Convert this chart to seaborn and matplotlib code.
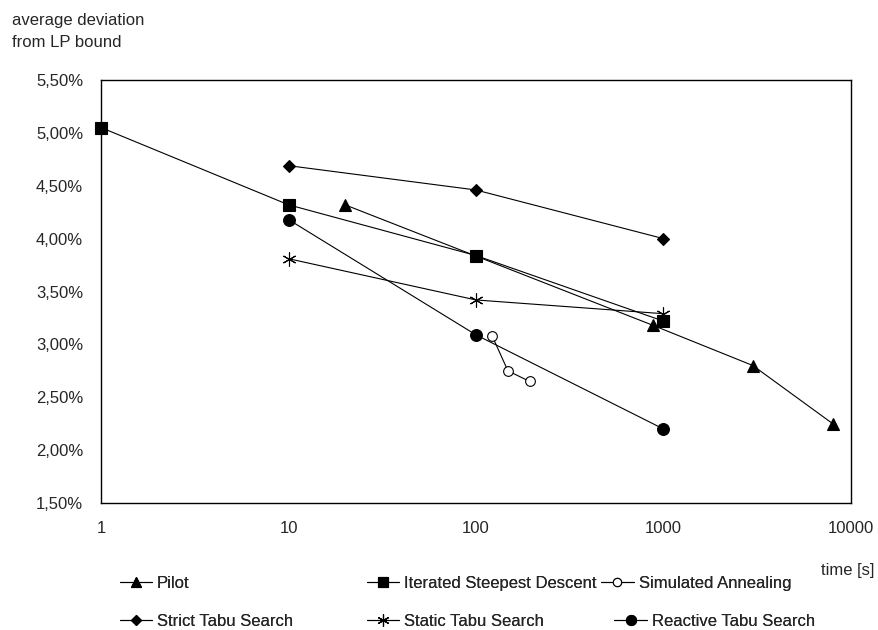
import pandas as pd
import matplotlib.pyplot as plt
import matplotlib.ticker as mticker
import seaborn as sns

# (time in s, deviation in %)
pilot_t = [20, 880, 3000, 8000]
pilot_y = [4.32, 3.18, 2.80, 2.25]

isd_t = [1, 10, 100, 1000]
isd_y = [5.05, 4.32, 3.84, 3.22]

sa_t = [122, 148, 193]
sa_y = [3.08, 2.75, 2.65]

strict_t = [10, 100, 1000]
strict_y = [4.69, 4.46, 4.00]

static_t = [10, 100, 1000]
static_y = [3.81, 3.42, 3.29]

reactive_t = [10, 100, 1000]
reactive_y = [4.18, 3.09, 2.20]

series = [
    ('Pilot', pilot_t, pilot_y, '^', 9, 'black'),
    ('Iterated Steepest Descent', isd_t, isd_y, 's', 8, 'black'),
    ('Simulated Annealing', sa_t, sa_y, 'o', 7, 'white'),
    ('Strict Tabu Search', strict_t, strict_y, 'D', 6.5, 'black'),
    ('Static Tabu Search', static_t, static_y, (6, 2, 0), 10, 'black'),
    ('Reactive Tabu Search', reactive_t, reactive_y, 'o', 8.5, 'black'),
]

sns.set_style('white')
plt.rcParams['font.family'] = ['Liberation Sans', 'DejaVu Sans']

fig = plt.figure(figsize=(8.79, 6.30), dpi=100)
ax = fig.add_axes([0.115, 0.2016, 0.853, 0.6714])

for name, t, y, m, ms, fc in series:
    df = pd.DataFrame({'t': t, 'y': y})
    sns.lineplot(data=df, x='t', y='y', ax=ax, color='black', linewidth=0.8,
                 marker=m, markersize=ms, markerfacecolor=fc,
                 markeredgecolor='black', markeredgewidth=0.8,
                 estimator=None, label=name, clip_on=False, zorder=3)

ax.set_xscale('log')
ax.set_xlim(1, 10000)
ax.set_ylim(1.5, 5.5)
ax.set_xticks([1, 10, 100, 1000, 10000])
ax.xaxis.set_major_formatter(mticker.FuncFormatter(lambda v, p: f'{v:g}'))
ax.xaxis.set_minor_locator(mticker.NullLocator())
ax.set_yticks([1.5, 2.0, 2.5, 3.0, 3.5, 4.0, 4.5, 5.0, 5.5])
ax.yaxis.set_major_formatter(mticker.FuncFormatter(lambda v, p: f'{v:.2f}'.replace('.', ',') + '%'))
ax.tick_params(axis='both', direction='out', length=5, width=1, color='black',
               labelsize=12, pad=8)
for s in ax.spines.values():
    s.set_color('black')
    s.set_linewidth(1)
ax.set_xlabel('')
ax.set_ylabel('')

fig.text(0.014, 0.98, 'average deviation\nfrom LP bound', ha='left', va='top',
         fontsize=12, linespacing=1.6)
fig.text(0.995, 0.095, 'time [s]', ha='right', va='center', fontsize=12)

handles, labels = ax.get_legend_handles_labels()
ax.get_legend().remove()

# Excel-style legend: each entry placed on its own
entry_pos = [(0.136, 0.062), (0.417, 0.062), (0.684, 0.062),
             (0.136, 0.002), (0.417, 0.002), (0.699, 0.002)]
for h, lab, (px, py) in zip(handles, labels, entry_pos):
    lg = fig.legend([h], [lab], loc='lower left', bbox_to_anchor=(px, py),
                    frameon=False, fontsize=12, handlelength=1.95,
                    handletextpad=0.3, borderpad=0, borderaxespad=0,
                    markerscale=0.85)
    fig.add_artist(lg)

fig.savefig('out.png', dpi=100)
